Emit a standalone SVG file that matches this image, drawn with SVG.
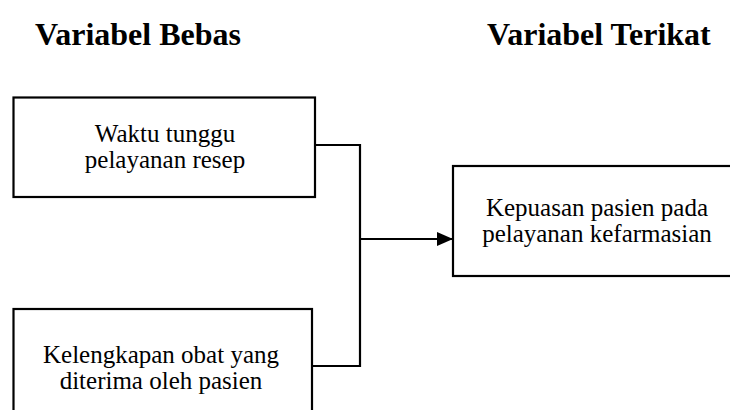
<svg xmlns="http://www.w3.org/2000/svg" width="730" height="410" viewBox="0 0 730 410">
<style>
.box{fill:#fff;stroke:#000;stroke-width:2.2}
.t{font-family:"Liberation Serif","Times New Roman",serif;font-size:25px;fill:#000;text-anchor:middle}
.h{font-family:"Liberation Serif","Times New Roman",serif;font-size:32px;font-weight:bold;fill:#000}
.c{fill:none;stroke:#000;stroke-width:2.2}
</style>
<defs>
<marker id="arr" markerWidth="16" markerHeight="14" refX="15" refY="7" orient="auto" markerUnits="userSpaceOnUse"><path d="M0,0 L16,7 L0,14 Z" fill="#000"/></marker>
</defs>
<rect width="730" height="410" fill="#fff"/>
<g id="title-bebas"><text class="h" x="35" y="45">Variabel Bebas</text></g>
<g id="title-terikat"><text class="h" x="487" y="45">Variabel Terikat</text></g>
<g id="connectors">
<path class="c" d="M315,145 H360 V366 H312"/>
<path class="c" d="M360,239 H452" marker-end="url(#arr)"/>
</g>
<g id="node-waktu">
<rect class="box" x="13.5" y="97.5" width="301.5" height="99.5"/>
<text class="t" x="165" y="142">Waktu tunggu</text>
<text class="t" x="165" y="168">pelayanan resep</text>
</g>
<g id="node-kelengkapan">
<rect class="box" x="13.5" y="309" width="298.5" height="120"/>
<text class="t" x="161" y="363">Kelengkapan obat yang</text>
<text class="t" x="161" y="389">diterima oleh pasien</text>
</g>
<g id="node-kepuasan">
<rect class="box" x="453" y="166" width="290" height="110"/>
<text class="t" x="597" y="216">Kepuasan pasien pada</text>
<text class="t" x="597" y="242">pelayanan kefarmasian</text>
</g>
</svg>
